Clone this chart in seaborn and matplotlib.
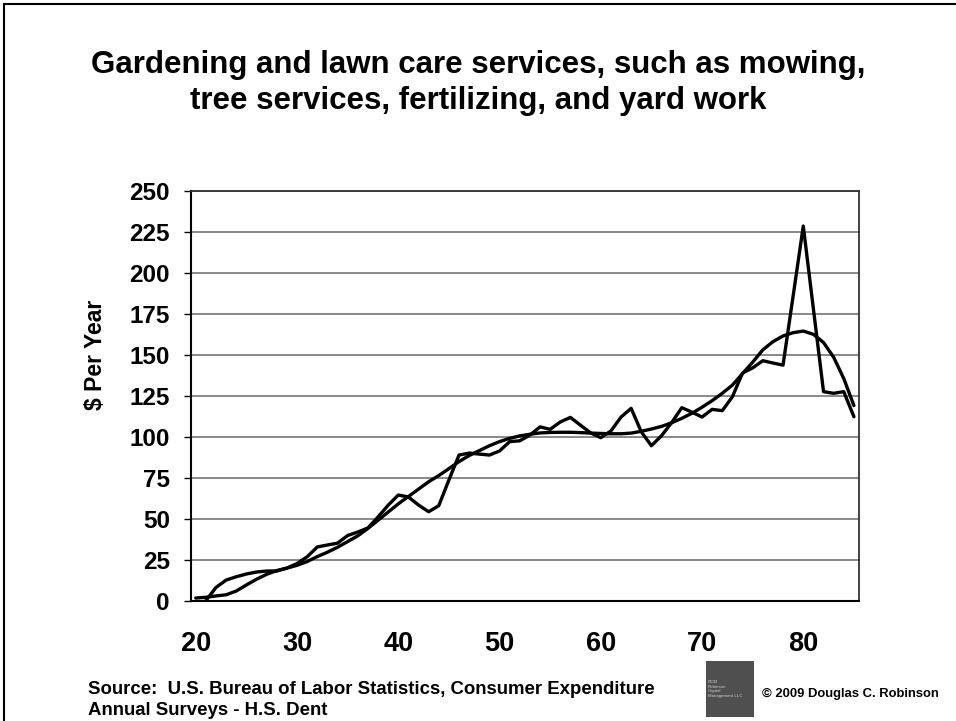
import matplotlib
matplotlib.use("Agg")
import matplotlib.pyplot as plt
import seaborn as sns
import pandas as pd
from matplotlib.lines import Line2D
from matplotlib.patches import Rectangle

sns.set_style("white")
plt.rcParams["font.family"] = ["Liberation Sans", "DejaVu Sans"]
plt.rcParams["text.color"] = "black"
plt.rcParams["axes.labelcolor"] = "black"
plt.rcParams["xtick.color"] = "black"
plt.rcParams["ytick.color"] = "black"

# ---- data -------------------------------------------------------------
ages_raw = list(range(21, 86))
spend_raw = [0, 8, 12.5, 14.5, 16.2, 17.4, 18, 18, 19.8, 22.6,
             26.7, 32.7, 33.9, 35, 39.7, 41.8, 44.3, 51, 58.2, 64.4,
             63.2, 58.3, 54.2, 57.9, 73.6, 88.8, 90, 89.4, 88.8, 91.3,
             97, 97.5, 101, 106, 104.5, 109, 111.8, 107, 102.3, 99.4,
             103.5, 112, 117.3, 103, 94.5, 100.6, 108.6, 117.7, 115, 112,
             116.7, 115.9, 124.4, 138.9, 142, 146.4, 145, 143.7, 186, 228.6,
             178, 127.5, 126.5, 127.5, 112.2]
ages_trend = list(range(20, 86))
spend_trend = [1.5, 2.0, 2.8, 3.5, 5.8, 9.5, 13, 16, 18.3, 19.8,
               21.5, 23.8, 26.8, 29.5, 32.5, 36, 39.5, 44, 49, 54,
               59, 63.5, 68, 72.5, 76.3, 80.5, 84.8, 88.5, 91.5, 94.5,
               97, 99, 100.5, 101.5, 102.3, 102.6, 102.7, 102.7, 102.5, 102.2,
               102, 101.8, 101.8, 102.2, 103.3, 104.7, 106.3, 108.5, 111.2, 114.3,
               118, 122, 126.5, 131.5, 138.5, 145.5, 153, 158, 161.5, 163.5,
               164.5, 162.5, 157.5, 148.5, 135.5, 119]
x_labels = ["20", "30", "40", "50", "60", "70", "80"]
y_ticks = [0, 25, 50, 75, 100, 125, 150, 175, 200, 225, 250]

title = "Gardening and lawn care services, such as mowing,\ntree services, fertilizing, and yard work"
source = "Source:  U.S. Bureau of Labor Statistics, Consumer Expenditure\nAnnual Surveys - H.S. Dent"
copyright_txt = "\u00a9 2009 Douglas C. Robinson"

df_raw = pd.DataFrame({"age": ages_raw, "spend": spend_raw})
df_trend = pd.DataFrame({"age": ages_trend, "spend": spend_trend})

# ---- figure -----------------------------------------------------------
fig = plt.figure(figsize=(9.56, 7.21), dpi=100)
ax = fig.add_axes([0.1995, 0.1671, 0.699, 0.568])

ax.yaxis.grid(True, color="#808080", lw=1.3)
ax.set_axisbelow(True)

sns.lineplot(data=df_raw, x="age", y="spend", ax=ax, color="black", lw=2.4)
sns.lineplot(data=df_trend, x="age", y="spend", ax=ax, color="black", lw=2.4)

ax.set_xlim(19.5, 85.5)
ax.set_ylim(0, 250)
ax.set_yticks(y_ticks)
ax.set_yticklabels([str(v) for v in y_ticks], fontsize=17.5, fontweight="bold")
ax.set_xticks([int(s) for s in x_labels])
ax.set_xticklabels(x_labels, fontsize=19.5, fontweight="bold")
ax.set_xticks([19.5 + 10 * i for i in range(7)], minor=True)
ax.tick_params(axis="x", which="major", length=0, pad=22)
ax.tick_params(axis="x", which="minor", length=6, width=1, direction="out", color="black")
ax.tick_params(axis="y", which="major", length=5, width=1, direction="out", color="black", pad=10, left=True)
ax.set_xlabel("")
ax.set_ylabel("")

for side in ["left", "bottom"]:
    ax.spines[side].set_color("black")
    ax.spines[side].set_linewidth(1.5)
for side in ["top", "right"]:
    ax.spines[side].set_visible(True)
    ax.spines[side].set_color("#333333")
    ax.spines[side].set_linewidth(1.3)

# y-axis title (placed like the original, above the axis centre)
fig.text(95 / 956, 1 - 355 / 721, "$ Per Year", rotation=90, ha="center",
         va="center", fontsize=16.5, fontweight="bold")

# title
fig.text(0.5, 1 - 83 / 721, title, ha="center", va="center", fontsize=22.5,
         fontweight="bold", linespacing=1.22)

# slide frame (top and left edges)
fig.add_artist(Line2D([4 / 956, 1.0], [1 - 4 / 721, 1 - 4 / 721],
                      transform=fig.transFigure, color="black", lw=1.5))
fig.add_artist(Line2D([4 / 956, 4 / 956], [0.0, 1 - 4 / 721],
                      transform=fig.transFigure, color="black", lw=1.5))

# source note
fig.text(88 / 956, 1 - 700 / 721, source, ha="left", va="center",
         fontsize=13.45, fontweight="bold", linespacing=1.25)

# logo block
fig.patches.append(Rectangle((706 / 956, 1 - 717 / 721), 48 / 956, 56 / 721,
                             transform=fig.transFigure, facecolor="#4f4f4f",
                             edgecolor="none"))
fig.text(708 / 956, 1 - 689 / 721, "RCM\nRobinson\nCapital\nManagement LLC",
         ha="left", va="center", fontsize=3.2, color="#cfcfcf", linespacing=1.3)
fig.text(762 / 956, 1 - 694 / 721, copyright_txt, ha="left", va="center",
         fontsize=9.4, fontweight="bold")

fig.savefig("out.png", dpi=100)
